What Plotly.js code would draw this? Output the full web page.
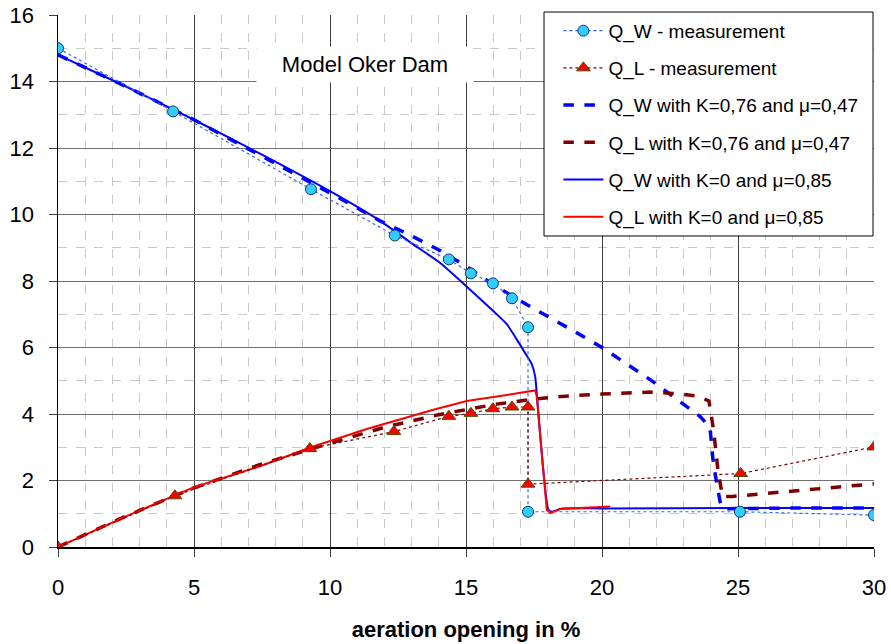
<!DOCTYPE html>
<html>
<head>
<meta charset="utf-8">
<script src="https://cdn.plot.ly/plotly-3.0.1.min.js"></script>
<style>html,body{margin:0;padding:0;background:#fff;}#chart{width:891px;height:644px;}</style>
</head>
<body>
<div id="chart"></div>
<script>
// Measurements
const qwMeasX = [0, 4.23, 9.3, 12.38, 14.37, 15.18, 15.99, 16.69, 17.28, 17.28, 25.07, 30];
const qwMeasY = [15.0, 13.1, 10.76, 9.37, 8.65, 8.23, 7.93, 7.48, 6.61, 1.06, 1.06, 0.96];
const qlMeasX = [0, 4.3, 9.26, 12.35, 14.37, 15.18, 15.99, 16.69, 17.28, 17.28, 25.1, 30];
const qlMeasY = [0, 1.54, 2.96, 3.47, 3.93, 4.02, 4.16, 4.21, 4.21, 1.89, 2.21, 3.01];

// Model K=0,76 and mu=0,47
const qwK76X = [0, 2.5, 5, 7.5, 10, 11.84, 12.82, 14.04, 15.03, 16.0, 17.23, 18.95, 20, 21.76, 23.0, 23.6, 23.97, 24.08, 24.2, 24.34, 24.44, 25, 27, 30];
const qwK76Y = [14.8, 13.85, 12.85, 11.75, 10.65, 9.81, 9.43, 8.92, 8.43, 7.89, 7.29, 6.5, 6.0, 5.04, 4.3, 3.93, 3.6, 2.63, 2.0, 1.37, 1.15, 1.16, 1.17, 1.17];
const qlK76X = [0, 2.5, 5, 7.5, 10, 12, 14, 16, 17.5, 18.5, 20, 21.76, 22.6, 23.53, 23.93, 24.1, 24.26, 24.43, 24.8, 26.65, 28.5, 30];
const qlK76Y = [0, 0.93, 1.78, 2.5, 3.12, 3.6, 3.98, 4.28, 4.45, 4.53, 4.6, 4.66, 4.62, 4.54, 4.39, 3.53, 2.33, 1.52, 1.52, 1.65, 1.8, 1.9];

// Model K=0 and mu=0,85
const qwK0X = [0, 2.5, 5, 7.5, 10, 11.84, 13.06, 14.04, 15.03, 16.0, 16.5, 16.9, 17.2, 17.42, 17.54, 17.62, 17.84, 18.03, 18.15, 18.5, 20, 25, 30];
const qwK0Y = [14.8, 13.85, 12.85, 11.8, 10.7, 9.81, 9.1, 8.55, 7.83, 7.1, 6.7, 6.2, 5.8, 5.49, 5.14, 4.44, 2.33, 1.12, 1.06, 1.15, 1.16, 1.17, 1.17];
const qlK0X = [0, 2.5, 5, 7.5, 9.3, 11.35, 13.8, 15.03, 16.25, 17.35, 17.54, 17.6, 17.97, 18.1, 18.46, 20.3];
const qlK0Y = [0, 0.92, 1.8, 2.45, 3.0, 3.55, 4.13, 4.39, 4.54, 4.69, 4.71, 4.54, 1.12, 1.02, 1.14, 1.22];

const names = [
  'Q_W - measurement',
  'Q_L - measurement',
  'Q_W with K=0,76 and μ=0,47',
  'Q_L with K=0,76 and μ=0,47',
  'Q_W with K=0 and μ=0,85',
  'Q_L with K=0 and μ=0,85'
];
const xTicks = [0, 5, 10, 15, 20, 25, 30];
const yTicks = [0, 2, 4, 6, 8, 10, 12, 14, 16];

const traces = [
  {x: qwK76X, y: qwK76Y, name: names[2], legendrank: 3, legendgroup: 'g3', mode: 'lines',
   line: {color: '#0000ff', width: 3.5, dash: 'dash'}},
  {x: qlK76X, y: qlK76Y, name: names[3], legendrank: 4, legendgroup: 'g4', mode: 'lines',
   line: {color: '#800000', width: 3.5, dash: 'dash'}},
  {x: qwK0X, y: qwK0Y, name: names[4], legendrank: 5, legendgroup: 'g5', mode: 'lines',
   line: {color: '#0000ff', width: 2, shape: 'spline', smoothing: 0.6}},
  {x: qlK0X, y: qlK0Y, name: names[5], legendrank: 6, legendgroup: 'g6', mode: 'lines',
   line: {color: '#ff0000', width: 2}},
  {x: qwMeasX, y: qwMeasY, name: names[0], legendrank: 1, legendgroup: 'g1', mode: 'lines+markers',
   line: {color: '#3366ff', width: 1.2, dash: 'dot'},
   marker: {symbol: 'circle', size: 11, color: '#33ccff', line: {color: '#0a3d6b', width: 1}}},
  {x: qlMeasX, y: qlMeasY, name: names[1], legendrank: 2, legendgroup: 'g2', mode: 'lines+markers',
   line: {color: '#800000', width: 1.2, dash: 'dot'},
   marker: {symbol: 'triangle-up', size: 12, color: '#ff0000', line: {color: '#4d4d00', width: 1}}}
];

const fontFam = 'Liberation Sans, Arial, sans-serif';
const layout = {
  width: 891, height: 644,
  margin: {l: 58, r: 17, t: 15, b: 97},
  paper_bgcolor: '#ffffff', plot_bgcolor: '#ffffff',
  font: {family: fontFam, color: '#000000', size: 18},
  showlegend: true,
  legend: {
    x: 0.987, xanchor: 'right', y: 1.006, yanchor: 'top',
    bgcolor: 'rgba(0,0,0,0)', borderwidth: 0,
    font: {family: fontFam, size: 19, color: '#000000'},
    tracegroupgap: 9.5, itemwidth: 40
  },
  shapes: [{
    type: 'rect', xref: 'paper', yref: 'paper', layer: 'above',
    x0: 0.5956, x1: 0.9988, y0: 0.5846, y1: 1.0056,
    fillcolor: '#ffffff', line: {color: '#000000', width: 1}
  }],
  xaxis: {
    range: [0, 30], tickvals: xTicks, ticktext: xTicks.map(String),
    showgrid: true, gridcolor: '#404040', gridwidth: 1,
    minor: {dtick: 1, showgrid: true, gridcolor: '#c8c8c8', griddash: 'dash', gridwidth: 1},
    ticks: 'outside', ticklen: 8, tickcolor: '#404040',
    ticklabelstandoff: 12,
    tickfont: {family: fontFam, size: 22, color: '#000000'},
    showline: true, linecolor: '#000000', linewidth: 1.5, mirror: false,
    zeroline: false,
    title: {text: '<b>aeration opening in %</b>', font: {family: fontFam, size: 22, color: '#000000'}, standoff: 22}
  },
  yaxis: {
    range: [0, 16], tickvals: yTicks, ticktext: yTicks.map(String),
    showgrid: true, gridcolor: '#707070', gridwidth: 1,
    minor: {dtick: 1, showgrid: true, gridcolor: '#c8c8c8', griddash: 'dash', gridwidth: 1},
    ticks: 'outside', ticklen: 8, tickcolor: '#404040',
    ticklabelstandoff: 10,
    tickfont: {family: fontFam, size: 22, color: '#000000'},
    showline: true, linecolor: '#000000', linewidth: 1.5,
    zeroline: false
  },
  annotations: [{
    x: 11.29, y: 14.52, xref: 'x', yref: 'y', showarrow: false,
    text: 'Model Oker Dam', bgcolor: '#ffffff', width: 208, height: 27, borderpad: 4,
    font: {family: fontFam, size: 22, color: '#000000'}
  }]
};

Plotly.newPlot('chart', traces, layout, {displayModeBar: false, staticPlot: true});
</script>
</body>
</html>
